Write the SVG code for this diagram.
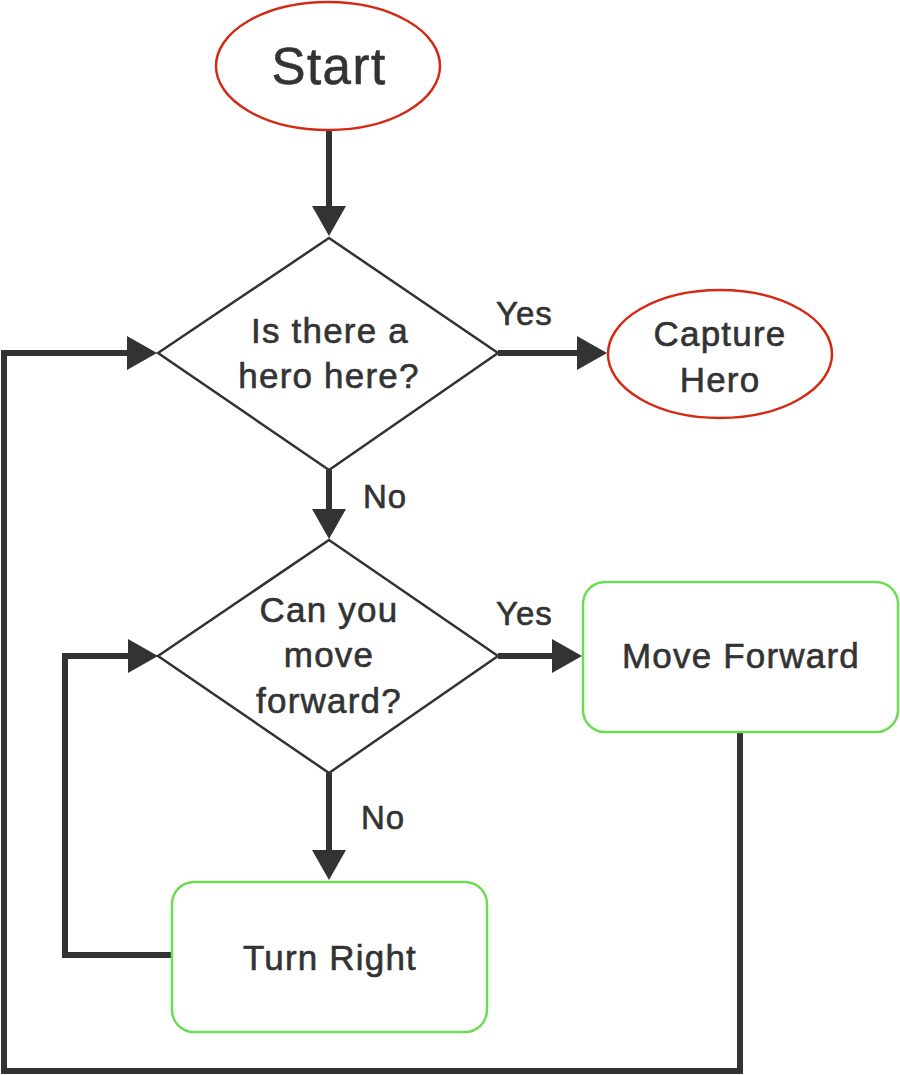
<svg xmlns="http://www.w3.org/2000/svg" width="900" height="1075" viewBox="0 0 900 1075">
<style>
.t{font-family:"Liberation Sans",Arial,Helvetica,sans-serif;fill:#333;stroke:#333;stroke-width:0.6;text-anchor:middle;font-size:35px;letter-spacing:1.2px}
.lbl{font-family:"Liberation Sans",Arial,Helvetica,sans-serif;fill:#333;stroke:#333;stroke-width:0.6;text-anchor:start;font-size:33px;letter-spacing:1px}
.oval{fill:#fff;stroke:#d42a14;stroke-width:2.5}
.box{fill:#fff;stroke:#6ddc55;stroke-width:2.5}
.dia{fill:#fff;stroke:#333;stroke-width:2.5;stroke-linejoin:miter}
.c{fill:none;stroke:#333;stroke-width:6;stroke-linejoin:miter;marker-end:url(#ah)}
</style>
<defs>
<marker id="ah" markerUnits="userSpaceOnUse" markerWidth="32" markerHeight="36" refX="0" refY="17" orient="auto" overflow="visible">
<path d="M0,0 L30,17 L0,34 z" fill="#333"/>
</marker>
</defs>
<rect width="900" height="1075" fill="#fff"/>
<g id="connectors">
<path class="c" d="M329,130 V206"/>
<path class="c" d="M498,353 H577"/>
<path class="c" d="M329,470 V509"/>
<path class="c" d="M498,656 H552"/>
<path class="c" d="M329,773 V850"/>
<path class="c" d="M172,955 H65 V656 H128"/>
<path class="c" d="M740,732 V1071 H4 V353 H127"/>
<text class="lbl" x="496" y="325">Yes</text>
<text class="lbl" x="363" y="508">No</text>
<text class="lbl" x="496" y="625">Yes</text>
<text class="lbl" x="361" y="829">No</text>
</g>
<g id="start">
<ellipse class="oval" cx="328" cy="66" rx="112" ry="64"/>
<text class="t" x="329" y="84" style="font-size:51px;letter-spacing:1.5px">Start</text>
</g>
<g id="hero-check">
<polygon class="dia" points="329,238 498,353 329,470 158,353"/>
<text class="t" x="330" y="343">Is there a</text>
<text class="t" x="329" y="388">hero here?</text>
</g>
<g id="capture-hero">
<ellipse class="oval" cx="720" cy="354" rx="112" ry="64"/>
<text class="t" x="720" y="346">Capture</text>
<text class="t" x="720" y="392">Hero</text>
</g>
<g id="move-check">
<polygon class="dia" points="329,540 498,656 329,773 158,656"/>
<text class="t" x="329" y="622">Can you</text>
<text class="t" x="329" y="667">move</text>
<text class="t" x="329" y="713">forward?</text>
</g>
<g id="move-forward">
<rect class="box" x="583" y="582" width="315" height="150" rx="22"/>
<text class="t" x="741" y="668">Move Forward</text>
</g>
<g id="turn-right">
<rect class="box" x="172" y="882" width="315" height="150" rx="22"/>
<text class="t" x="330" y="970">Turn Right</text>
</g>
</svg>
